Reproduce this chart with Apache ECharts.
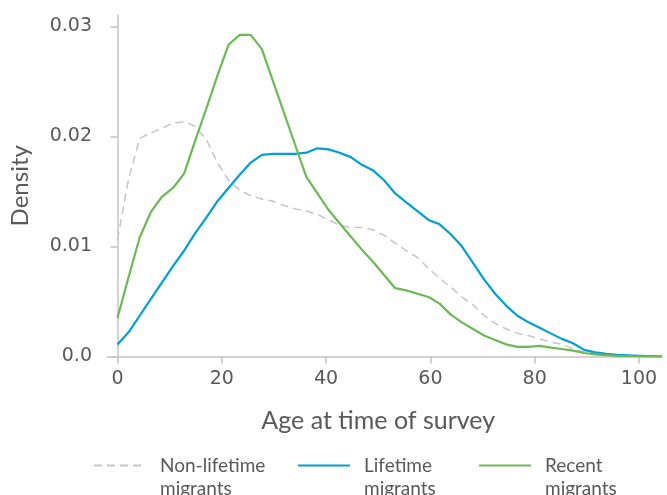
<!DOCTYPE html>
<html>
<head>
<meta charset="utf-8">
<script src="https://cdn.jsdelivr.net/npm/echarts@6/dist/echarts.min.js"></script>
<style>
  html, body { margin: 0; padding: 0; background: #fff; }
  #chart { width: 667px; height: 495px; }
</style>
</head>
<body>
<div id="chart"></div>
<script>
// Evaluation grid (age in years) shared by the three density curves
const ages = [0, 2.13, 4.26, 6.39, 8.52, 10.65, 12.78, 14.91, 17.04, 19.17,
  21.3, 23.43, 25.56, 27.69, 29.82, 31.95, 34.08, 36.21, 38.34, 40.47,
  42.6, 44.73, 46.86, 48.99, 51.12, 53.25, 55.38, 57.51, 59.64, 61.77,
  63.9, 66.03, 68.16, 70.29, 72.42, 74.55, 76.68, 78.81, 80.94, 83.07,
  85.2, 87.33, 89.46, 91.59, 93.72, 95.85, 97.98, 100.11, 102.24, 104.37];

const nonLifetime = [0.0106, 0.0161, 0.0198, 0.0203, 0.0207, 0.0212, 0.0213, 0.0209, 0.0197, 0.0176,
  0.0160, 0.0151, 0.0146, 0.0143, 0.0141, 0.0137, 0.0134, 0.0132, 0.0129, 0.0124,
  0.0119, 0.0117, 0.0117, 0.0115, 0.0110, 0.0103, 0.0096, 0.0090, 0.0080, 0.0071,
  0.0063, 0.0054, 0.0047, 0.0037, 0.0030, 0.0025, 0.0021, 0.0019, 0.0016, 0.0013,
  0.0011, 0.0007, 0.0004, 0.00027, 0.00016, 0.0001, 0.00006, 0.00003, 0.00002, 0.00001];

const lifetime = [0.0011, 0.0022, 0.0037, 0.0052, 0.0067, 0.0082, 0.0096, 0.0112, 0.0126, 0.0141,
  0.0153, 0.0165, 0.0176, 0.0183, 0.0184, 0.0184, 0.0184, 0.0185, 0.0189, 0.0188,
  0.0185, 0.0181, 0.0174, 0.0169, 0.0160, 0.0148, 0.0140, 0.0132, 0.0124, 0.0120,
  0.0111, 0.0100, 0.0085, 0.0070, 0.0057, 0.0046, 0.0037, 0.0031, 0.0026, 0.0021,
  0.0016, 0.0012, 0.0006, 0.00038, 0.00025, 0.00016, 0.0001, 0.00007, 0.00004, 0.00002];

const recent = [0.0035, 0.0072, 0.0108, 0.0131, 0.0145, 0.0153, 0.0166, 0.0196, 0.0225, 0.0255,
  0.0283, 0.0292, 0.0292, 0.0279, 0.0250, 0.0221, 0.0192, 0.0163, 0.0148, 0.0133,
  0.0121, 0.0109, 0.0097, 0.0086, 0.0074, 0.0062, 0.0060, 0.0057, 0.0054, 0.0048,
  0.0038, 0.0031, 0.0025, 0.0019, 0.0015, 0.0011, 0.00088, 0.00088, 0.00097, 0.0008,
  0.00068, 0.00053, 0.00032, 0.0002, 0.00012, 0.00006, 0.00003, 0.00002, 0.00001, 0.00001];

const seriesNames = ['Non-lifetime migrants', 'Lifetime migrants', 'Recent migrants'];
const xTicks = { min: 0, max: 100, step: 20 };
const yTicks = { min: 0, max: 0.03, step: 0.01 };

const TEXT = '#595959';
const AXIS = '#c4c4c4';
const tickFont = 'DejaVu Sans';
const titleFont = 'Lato';

const pairs = vals => ages.map((a, i) => [a, vals[i]]);

// Each legend entry: line sample beside a two-line label whose first line
// sits level with the sample (leading blank line balances the centring).
const legendBase = (name, left) => ({
  show: true,
  data: [name],
  left: left,
  top: 431,
  padding: 0,
  itemWidth: 52,
  itemHeight: 14,
  itemStyle: { opacity: 0 },
  formatter: n => '\n' + n.replace(' migrants', '\nmigrants'),
  textStyle: {
    color: TEXT, fontFamily: titleFont, fontSize: 19, lineHeight: 23,
    padding: [0, 0, 0, 9]
  }
});

const chart = echarts.init(document.getElementById('chart'), null, { renderer: 'canvas' });

chart.setOption({
  animation: false,
  backgroundColor: '#fff',
  grid: [
    // plotting area (full extent of the axis lines)
    { left: 107, right: 5, top: 15, bottom: 138.5 },
    // tick/label frame aligned on the round values
    { left: 117.5, right: 28, top: 26.5, bottom: 138.5 }
  ],
  xAxis: [
    {
      gridIndex: 0, type: 'value', min: -2, max: 104.4,
      axisLine: { show: true, lineStyle: { color: AXIS, width: 1.5 } },
      axisTick: { show: false }, axisLabel: { show: false }, splitLine: { show: false }
    },
    {
      gridIndex: 1, type: 'value', min: xTicks.min, max: xTicks.max, interval: xTicks.step,
      axisLine: { show: false },
      axisTick: { show: true, length: 7, lineStyle: { color: AXIS, width: 1.5 } },
      axisLabel: { color: TEXT, fontFamily: tickFont, fontSize: 19, margin: 13 },
      splitLine: { show: false },
      name: 'Age at time of survey', nameLocation: 'middle', nameGap: 52,
      nameTextStyle: { color: TEXT, fontFamily: titleFont, fontSize: 25 }
    }
  ],
  yAxis: [
    {
      gridIndex: 0, type: 'value', min: 0, max: 0.031,
      axisLine: { show: true, lineStyle: { color: AXIS, width: 1.5 } },
      axisTick: { show: false }, axisLabel: { show: false }, splitLine: { show: false },
      name: 'Density', nameLocation: 'middle', nameGap: 75, nameRotate: 90,
      nameTextStyle: { color: TEXT, fontFamily: titleFont, fontSize: 24 }
    },
    {
      gridIndex: 1, type: 'value', min: yTicks.min, max: yTicks.max, interval: yTicks.step,
      offset: 10.5,
      axisLine: { show: false },
      axisTick: { show: true, length: 7, lineStyle: { color: AXIS, width: 1.5 } },
      axisLabel: {
        color: TEXT, fontFamily: tickFont, fontSize: 19, margin: 15,
        formatter: v => (v === 0 ? '0.0' : v.toFixed(2))
      },
      splitLine: { show: false }
    }
  ],
  legend: [
    legendBase(seriesNames[0], 93),
    legendBase(seriesNames[1], 297),
    legendBase(seriesNames[2], 478)
  ],
  series: [
    {
      name: seriesNames[0], type: 'line', xAxisIndex: 0, yAxisIndex: 0,
      data: pairs(nonLifetime), symbol: 'none', smooth: false,
      lineStyle: { color: '#c6c6c6', width: 1.5, type: [8, 5] },
      itemStyle: { color: '#c6c6c6' }
    },
    {
      name: seriesNames[1], type: 'line', xAxisIndex: 0, yAxisIndex: 0,
      data: pairs(lifetime), symbol: 'none', smooth: false,
      lineStyle: { color: '#009fd6', width: 2.2 },
      itemStyle: { color: '#009fd6' }
    },
    {
      name: seriesNames[2], type: 'line', xAxisIndex: 0, yAxisIndex: 0,
      data: pairs(recent), symbol: 'none', smooth: false,
      lineStyle: { color: '#6cb956', width: 2.2 },
      itemStyle: { color: '#6cb956' }
    }
  ]
});
</script>
</body>
</html>
